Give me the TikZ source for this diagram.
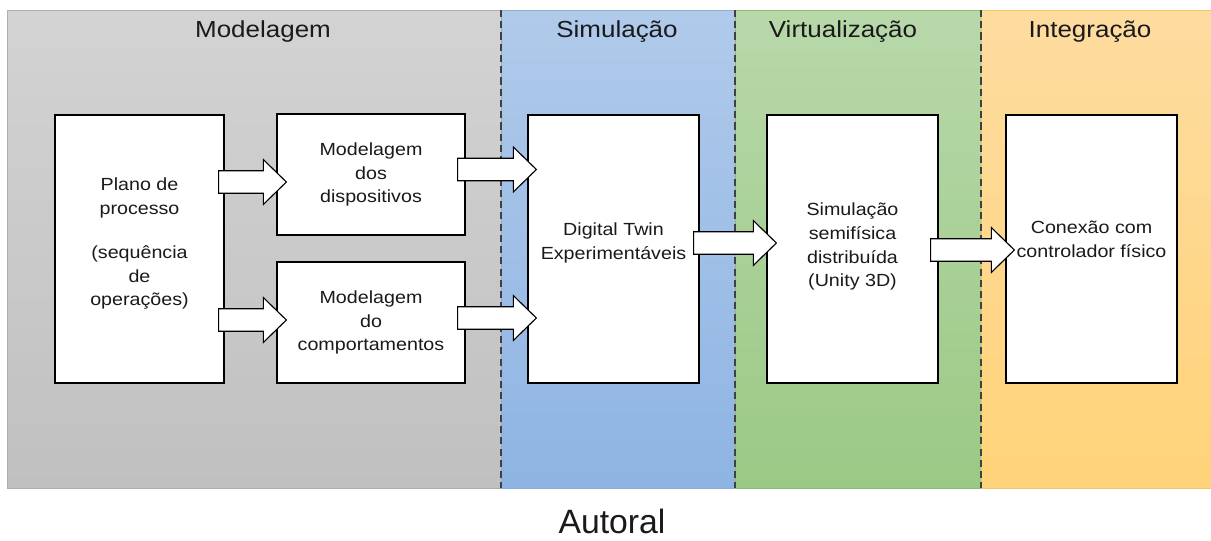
\documentclass[tikz,border=0pt]{standalone}
\usepackage{fontspec}
\setmainfont{Liberation Sans}[FakeStretch=1.12]
\newfontfamily\autoralfont{Liberation Sans}
\usepackage{xcolor}
\usepackage{tikz}
\usetikzlibrary{positioning,calc}

\definecolor{grayTop}{HTML}{D3D3D3}
\definecolor{grayBot}{HTML}{C0C0C0}
\definecolor{grayLine}{HTML}{AEAEAE}
\definecolor{blueTop}{HTML}{B0CAEA}
\definecolor{blueBot}{HTML}{8EB4E3}
\definecolor{blueLine}{HTML}{8AAED9}
\definecolor{greenTop}{HTML}{B8D8AA}
\definecolor{greenBot}{HTML}{9BC985}
\definecolor{greenLine}{HTML}{8DBB77}
\definecolor{orangeTop}{HTML}{FEDCA0}
\definecolor{orangeBot}{HTML}{FFD379}
\definecolor{orangeLine}{HTML}{F2C76C}
\definecolor{ink}{HTML}{1A1A1A}

% empty line used to move a box text up or down a little
\newcommand{\padline}[1]{\\[#1]\mbox{}}

\tikzset{
  band/.style={draw=#1Line, line width=0.6pt, top color=#1Top, bottom color=#1Bot},
  stage/.style={draw, fill=white, line width=0.9pt, align=center, text=ink,
                font=\fontsize{12.5}{17}\selectfont, inner sep=2pt},
  ttl/.style={font=\fontsize{16.5}{20}\selectfont, text=ink},
  fat/.style={draw, fill=white, line width=0.8pt, line join=miter,
    to path={let \p1=(\tikztostart), \p2=(\tikztotarget) in
      (\x1,\y1+2.8mm) -- ({\x2-5.75mm},\y1+2.8mm) -- ({\x2-5.75mm},\y1+5.6mm)
      -- (\x2,\y1) -- ({\x2-5.75mm},\y1-5.6mm) -- ({\x2-5.75mm},\y1-2.8mm)
      -- (\x1,\y1-2.8mm) -- cycle}},
}

\begin{document}
\begin{tikzpicture}[
  x=0.25mm, y=-0.25mm,
  sep/.style={draw=black!75, line width=0.8pt, dash pattern=on 5pt off 3pt},
]
  \useasboundingbox (0,0) rectangle (1211,540);

  % Phase bands
  \shade[band=gray]   (7,10)   rectangle (501,488);
  \shade[band=blue]   (501,10) rectangle (735,488);
  \shade[band=green]  (735,10) rectangle (981,488);
  \shade[band=orange] (981,10) rectangle (1211,488);

  \draw[sep] (501,10) -- (501,488);
  \draw[sep] (735,10) -- (735,488);
  \draw[sep] (981,10) -- (981,488);

  % Band titles
  \node[ttl] (tmod) at (263,32)  {Modelagem};
  \node[ttl] (tsim) at (617,32)  {Simulação};
  \node[ttl] (tvir) at (843,32)  {Virtualização};
  \node[ttl] (tint) at (1090,32) {Integração};

  % Stages
  \node[stage, minimum width=42.25mm, minimum height=67mm] (plano) at (139.5,249)
       {Plano de\\processo\\[14pt](sequência\\de\\operações)\padline{-7pt}};
  \node[stage, minimum width=47mm, minimum height=30.25mm] (disp) at (371,174.5)
       {Modelagem\\dos\\dispositivos};
  \node[stage, minimum width=47mm, minimum height=30.25mm] (comp) at (371,322.5)
       {Modelagem\\do\\comportamentos};
  \node[stage, minimum width=42.75mm, minimum height=67mm] (twin) at (613.5,249)
       {Digital Twin\\Experimentáveis\padline{-5.6pt}};
  \node[stage, minimum width=42.75mm, minimum height=67mm] (semi) at (852.5,249)
       {\mbox{}\\[-11.4pt]Simulação\\semifísica\\distribuída\\(Unity 3D)};
  \node[stage, minimum width=42.75mm, minimum height=67mm] (ctrl) at (1091.5,249)
       {Conexão com\\controlador físico\padline{-3pt}};

  % Block arrows
  \draw[fat] ($(plano.east |- disp.west)+(-6,7.5)$) to ([xshift=2.5mm]disp.west);
  \draw[fat] ($(plano.east |- comp.west)+(-6,-2.5)$) to ([xshift=2.5mm]comp.west);
  \draw[fat] ($(disp.east)+(-8,-5)$) to ([xshift=2.25mm]twin.west);
  \draw[fat] ($(comp.east)+(-8,-4.5)$) to ([xshift=2.25mm]twin.west);
  \draw[fat] ($(twin.east)+(-6,-6)$) to ([xshift=2.5mm]semi.west);
  \draw[fat] ($(semi.east)+(-8,1)$) to ([xshift=2.25mm]ctrl.west);

  % Caption
  \node[font=\autoralfont\fontsize{24}{28}\selectfont, text=ink, inner sep=0pt]
       (cap) at (612,521) {Autoral};
\end{tikzpicture}
\end{document}
